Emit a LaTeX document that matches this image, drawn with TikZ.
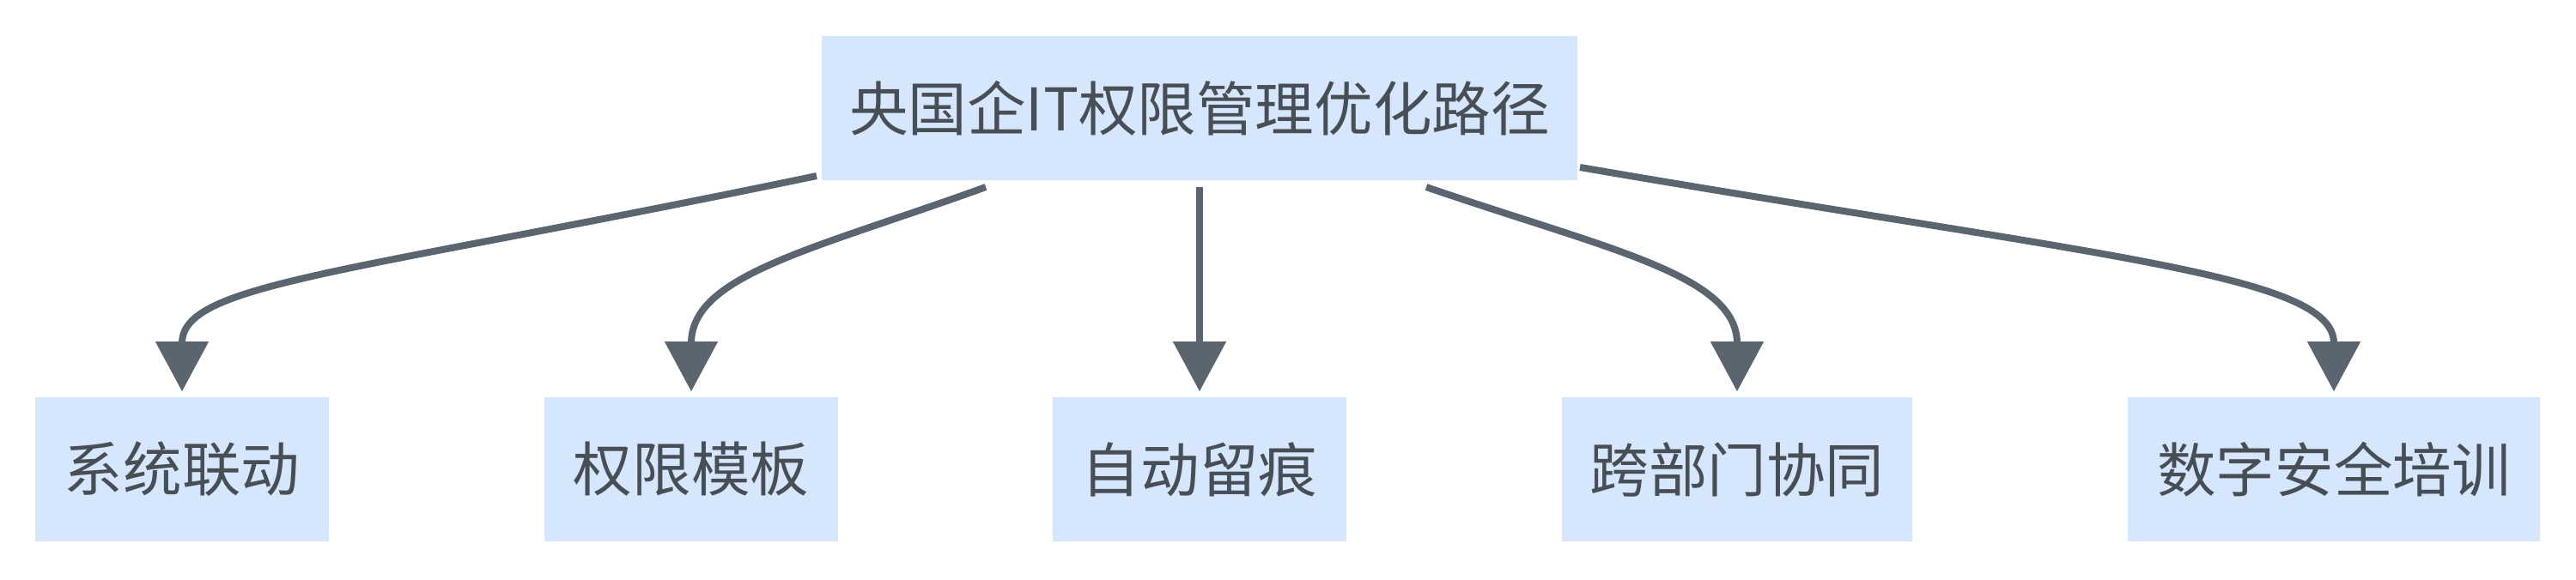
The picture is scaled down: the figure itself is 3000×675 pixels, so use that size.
\documentclass[tikz,border=0pt]{standalone}
\usepackage{fontspec}
\setmainfont{Noto Sans CJK SC}
\usepackage{xcolor}
\usetikzlibrary{arrows.meta,positioning}
\definecolor{boxfill}{HTML}{D6E7FD}
\definecolor{boxtext}{HTML}{474E56}
\definecolor{edgecol}{HTML}{5A6570}

\begin{document}
\begin{tikzpicture}[x=0.01cm,y=-0.01cm,
		box/.style={fill=boxfill,text=boxtext,minimum height=1.68cm,inner sep=0pt,
			font=\fontsize{19.5}{24}\selectfont},
		link/.style={draw=edgecol,line width=0.08cm,
			-{Triangle[length=0.58cm,width=0.6cm]},shorten >=0.06cm}]
			\useasboundingbox (0,0) rectangle (3000,675);
			%
			\node[box,minimum width=8.8cm] (root) at (1397,126) {央国企IT权限管理优化路径};
			\node[box,minimum width=3.41cm] (sys) at (212,547) {系统联动};
			\node[box,minimum width=3.41cm] (tpl) at (805,547) {权限模板};
			\node[box,minimum width=3.41cm] (log) at (1397,547) {自动留痕};
			\node[box,minimum width=4.08cm] (dept) at (2023,547) {跨部门协同};
			\node[box,minimum width=4.79cm] (train) at (2718,547) {数字安全培训};
			%
			\draw[link] (951,205) .. controls (400,320) and (212,330) .. (sys.north);
			\draw[link] (1148,218) .. controls (950,290) and (805,320) .. (tpl.north);
			\draw[link] (1397,218) -- (log.north);
			\draw[link] (1661,218) .. controls (1870,290) and (2023,320) .. (dept.north);
			\draw[link] (1840,195) .. controls (2450,300) and (2718,320) .. (train.north);
		\end{tikzpicture}
\end{document}
